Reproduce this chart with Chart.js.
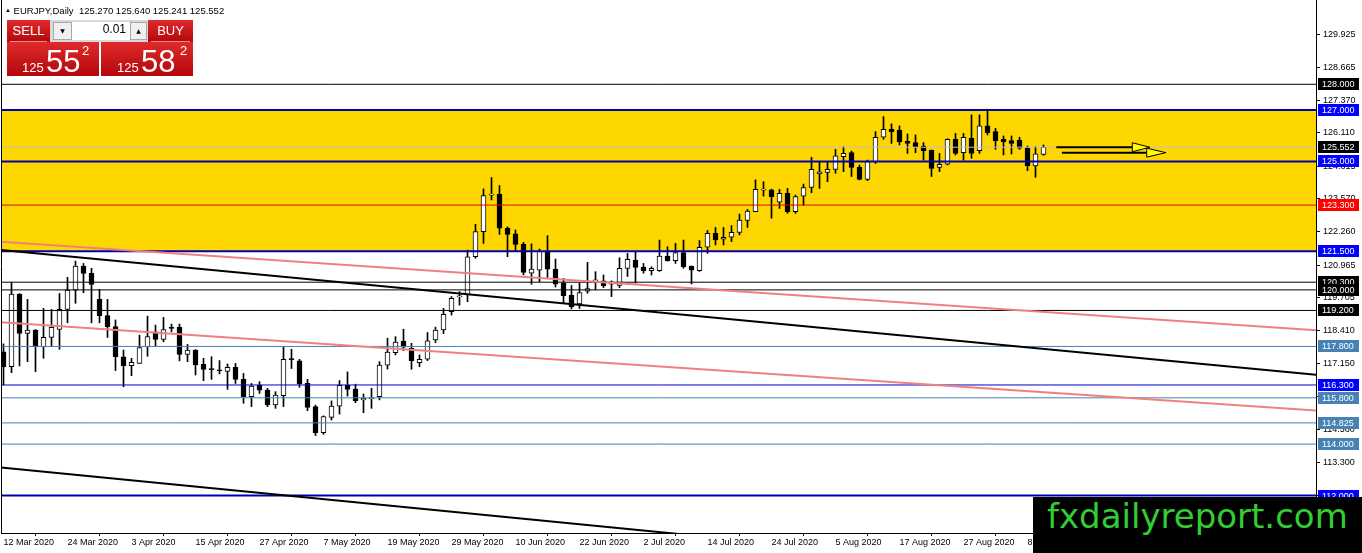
<!DOCTYPE html>
<html>
<head>
<meta charset="utf-8">
<script src="https://cdn.jsdelivr.net/npm/chart.js@4.4.1/dist/chart.umd.min.js"></script>
<style>
html, body { margin: 0; padding: 0; background: #fff; overflow: hidden; }
#wrap { position: relative; width: 1362px; height: 553px; }
#chart { position: absolute; left: 0; top: 0; }
#hdr { position: absolute; left: 5px; top: 5px; font: 9.5px "Liberation Sans", sans-serif; line-height: 10px; color: #000; white-space: pre; }
#hdr .tri { font-size: 6px; vertical-align: 2px; }
.red { position: absolute; background: linear-gradient(#e02a2c, #b3070b); color: #fff; font-family: "Liberation Sans", sans-serif; }
#sell { left: 7px; top: 20px; width: 43px; height: 22px; font-size: 13px; line-height: 22px; text-align: center; }
#buy { left: 148px; top: 20px; width: 45px; height: 22px; font-size: 13px; line-height: 22px; text-align: center; }
#sell:after, #buy:after { content: ""; position: absolute; left: 3px; right: 3px; bottom: 0; height: 1px; background: #f08a8a; }
#spin { position: absolute; left: 50px; top: 20px; width: 98px; height: 22px; background: #d8d8d8; }
#spin div { position: absolute; top: 2px; height: 18px; font-family: "DejaVu Sans", sans-serif; }
#dn { left: 3px; width: 19px; background: #f0f0f0; border: 1px solid #a8a8a8; box-sizing: border-box; font-size: 6px; line-height: 16px; text-align: center; }
#val { left: 22px; width: 58px; background: #fff; font: 12px "Liberation Sans", sans-serif !important; line-height: 18px; text-align: right; padding-right: 4px; box-sizing: border-box; }
#up { left: 80px; width: 17px; background: #f0f0f0; border: 1px solid #a8a8a8; box-sizing: border-box; font-size: 6px; line-height: 16px; text-align: center; }
.big { top: 42px; width: 92px; height: 34px; }
.big span { position: absolute; line-height: 1; }
.big .s { font-size: 13px; top: 19px; }
.big .b { font-size: 31px; top: 4px; }
.big .p { font-size: 13px; top: 2px; }
#mark { position: absolute; left: 1033px; top: 497px; width: 329px; height: 56px; background: #000; color: #33cc33; font: 34px "DejaVu Sans", sans-serif; line-height: 38px; padding-left: 14px; box-sizing: border-box; white-space: nowrap; overflow: hidden; }
</style>
</head>
<body>
<div id="wrap">
  <canvas id="chart" width="1362" height="553"></canvas>
  <div id="hdr"><span class="tri">▲</span> EURJPY,Daily  125.270 125.640 125.241 125.552</div>
  <div id="sell" class="red">SELL</div>
  <div id="spin"><div id="dn">▼</div><div id="val">0.01</div><div id="up">▲</div></div>
  <div id="buy" class="red">BUY</div>
  <div class="red big" style="left:7px"><span class="s" style="left:15px">125</span><span class="b" style="left:39px">55</span><span class="p" style="left:75px">2</span></div>
  <div class="red big" style="left:101px"><span class="s" style="left:16px">125</span><span class="b" style="left:40px">58</span><span class="p" style="left:79px">2</span></div>
  <div id="mark">fxdailyreport.com</div>
</div>
<script>
const dateLabels = ['12 Mar 2020', '24 Mar 2020', '3 Apr 2020', '15 Apr 2020', '27 Apr 2020', '7 May 2020',
    '19 May 2020', '29 May 2020', '10 Jun 2020', '22 Jun 2020', '2 Jul 2020', '14 Jul 2020', '24 Jul 2020',
    '5 Aug 2020', '17 Aug 2020', '27 Aug 2020', '8 Sep 2020'];

const priceTicks = [129.925, 128.665, 127.370, 126.110, 124.815, 123.570, 122.260, 120.965, 119.705,
    118.410, 117.150, 115.860, 114.560, 113.300, 112.005];

const opens = [
    117.59, 117.01, 119.84, 118.31, 118.44, 117.79, 118.15, 118.46, 119.24, 119.99,
    120.93, 120.64, 119.63, 119.00, 118.57, 117.40, 117.05, 117.14, 117.79, 118.37,
    118.07, 118.52, 118.54, 117.49, 117.66, 117.10, 116.92, 116.86, 116.83, 116.99,
    116.52, 115.85, 116.29, 116.10, 115.52, 115.88, 117.31, 117.24, 116.36, 115.46,
    114.44, 115.04, 115.48, 116.29, 116.14, 115.72, 115.77, 115.85, 117.07, 117.56,
    118.01, 117.73, 117.17, 117.30, 118.05, 118.44, 119.15, 119.73, 119.80, 121.29,
    122.27, 123.69, 123.72, 122.40, 122.18, 121.77, 120.65, 120.77, 121.46, 120.81,
    120.26, 119.80, 119.45, 119.95, 120.35, 120.35, 120.22, 120.17, 120.84, 121.16,
    120.89, 120.75, 120.75, 121.32, 121.14, 121.45, 120.93, 120.75, 121.66, 122.20,
    121.97, 122.05, 122.24, 122.70, 123.04, 123.88, 123.89, 123.41, 123.76, 123.04,
    123.65, 123.99, 124.51, 124.57, 124.69, 125.18, 125.34, 124.77, 124.30, 124.99,
    125.94, 126.25, 126.22, 125.79, 125.73, 125.60, 125.44, 124.77, 124.89, 125.86,
    125.34, 125.90, 125.42, 126.38, 126.16, 125.86, 125.81, 125.83, 125.51, 124.82,
    125.27];
const highs = [
    117.90, 120.29, 119.86, 119.63, 118.46, 119.28, 119.24, 119.86, 120.49, 121.12,
    121.03, 120.84, 120.02, 119.63, 118.83, 117.66, 117.34, 118.24, 118.98, 118.63,
    118.93, 118.67, 118.67, 117.88, 117.68, 117.34, 117.40, 117.25, 117.12, 117.14,
    116.75, 116.36, 116.43, 116.17, 116.04, 117.77, 117.69, 117.30, 116.52, 115.52,
    115.10, 115.68, 116.47, 116.81, 116.33, 115.95, 116.17, 117.21, 118.12, 118.18,
    118.47, 117.92, 117.47, 118.34, 118.55, 119.28, 119.74, 119.93, 121.55, 122.55,
    123.93, 124.37, 124.06, 122.45, 122.33, 121.85, 121.79, 121.59, 122.11, 121.20,
    120.45, 120.17, 120.26, 121.07, 120.71, 120.58, 120.35, 121.25, 121.42, 121.46,
    121.03, 120.90, 121.94, 121.68, 121.81, 121.94, 120.93, 121.92, 122.31, 122.43,
    122.43, 122.50, 122.95, 123.13, 124.28, 124.21, 123.92, 123.91, 123.95, 123.69,
    124.12, 125.16, 124.99, 124.99, 125.47, 125.57, 125.40, 124.86, 125.05, 126.16,
    126.74, 126.46, 126.38, 126.07, 126.03, 125.73, 125.44, 125.31, 125.88, 126.09,
    126.09, 126.81, 126.81, 127.03, 126.29, 125.99, 125.99, 125.94, 125.60, 125.57,
    125.64];
const lows = [
    116.30, 116.78, 117.04, 117.21, 116.82, 117.34, 117.79, 117.69, 118.72, 119.48,
    119.89, 118.72, 118.72, 118.15, 116.86, 116.23, 116.66, 117.14, 117.42, 117.83,
    117.98, 118.37, 117.24, 117.21, 116.69, 116.47, 116.52, 116.73, 116.13, 116.36,
    115.59, 115.46, 115.97, 115.46, 115.39, 115.46, 116.94, 116.21, 115.30, 114.33,
    114.38, 114.94, 115.17, 115.87, 115.61, 115.22, 115.39, 115.72, 116.92, 117.47,
    117.64, 116.91, 117.01, 117.25, 117.95, 118.30, 119.02, 119.41, 119.54, 121.23,
    121.81, 123.50, 122.16, 121.29, 121.51, 120.58, 120.22, 120.32, 120.48, 120.11,
    119.48, 119.26, 119.28, 119.87, 120.00, 120.09, 119.74, 120.09, 120.52, 120.26,
    120.65, 120.58, 120.72, 121.12, 121.03, 120.84, 120.23, 120.72, 121.42, 121.75,
    121.75, 121.88, 122.14, 122.43, 123.04, 123.65, 122.79, 123.17, 122.98, 122.98,
    123.30, 123.78, 123.95, 124.21, 124.54, 124.60, 124.41, 124.28, 124.25, 124.92,
    125.86, 125.70, 125.64, 125.31, 125.34, 125.05, 124.41, 124.60, 124.86, 125.25,
    125.05, 125.12, 125.31, 126.03, 125.47, 125.25, 125.29, 125.47, 124.64, 124.38,
    125.24];
const closes = [
    117.01, 119.84, 118.31, 118.44, 117.79, 118.15, 118.54, 119.24, 119.99, 120.93,
    120.64, 120.21, 119.00, 118.57, 117.40, 117.05, 117.18, 117.76, 118.18, 118.07,
    118.46, 118.50, 117.49, 117.66, 117.08, 116.91, 116.90, 116.85, 116.99, 116.52,
    115.85, 116.26, 116.10, 115.52, 115.91, 117.30, 117.29, 116.34, 115.43, 114.44,
    115.07, 115.48, 116.29, 116.13, 115.69, 115.78, 115.80, 117.07, 117.58, 117.97,
    117.77, 117.25, 117.30, 118.02, 118.44, 119.05, 119.67, 119.75, 121.29, 122.27,
    123.67, 123.70, 122.40, 122.16, 121.77, 120.68, 120.81, 121.51, 120.81, 120.22,
    119.78, 119.35, 119.90, 120.05, 120.39, 120.16, 120.24, 120.84, 121.19, 120.87,
    120.74, 120.84, 121.32, 121.14, 121.45, 120.90, 120.77, 121.66, 122.20, 121.94,
    122.05, 122.24, 122.72, 123.07, 123.91, 123.90, 123.63, 123.76, 123.04, 123.63,
    123.98, 124.69, 124.59, 124.69, 125.22, 125.31, 124.77, 124.30, 124.99, 125.94,
    126.25, 126.16, 125.77, 125.70, 125.57, 125.42, 124.73, 124.89, 125.86, 125.31,
    125.94, 125.31, 126.38, 126.12, 125.81, 125.77, 125.70, 125.51, 124.82, 125.29,
    125.55];

const lastPrice = 125.552;
const zoneTop = 127;
const zoneBottom = 121.5;

const levels = [128, 127, 125, 123.3, 121.5, 120.3, 120, 119.2, 117.8, 116.3, 115.8, 114.825, 114, 112];
const levelKinds = ['black', 'blue', 'blue', 'red', 'blue', 'black', 'black', 'black', 'steel', 'navy', 'steel', 'steel', 'steel', 'blue'];

// trend lines: price at the left and right edge of the chart
const xEdges = [-0.3125, 164.0625];
const blackUpper = [121.55, 116.70];
const pinkUpper = [121.87, 118.43];
const pinkLower = [118.74, 115.31];
const blackLower = [113.09, 108.07];

const arrowStart = [131.6, 132.3];
const arrowBase = [141.1, 142.9];
const arrowTip = [143.3, 145.3];
const arrowPrice = [125.55, 125.34];

const kindStyle = {
    black: { line: '#000000', width: 1, box: '#000000' },
    blue: { line: '#0000b0', width: 2, box: '#0000ff' },
    navy: { line: '#0000cd', width: 1, box: '#0000ff' },
    red: { line: '#e00000', width: 1, box: '#ff0000' },
    steel: { line: '#4682b4', width: 1, box: '#4682b4' }
};

function flatLine(v){
    return [{ x: xEdges[0], y: v }, { x: xEdges[1], y: v }];
}

function trend(vals){
    return [{ x: xEdges[0], y: vals[0] }, { x: xEdges[1], y: vals[1] }];
}

function lineSet(data, color, width, order){
    return { type: 'line', data: data, borderColor: color, borderWidth: width, pointRadius: 0, fill: false, order: order };
}

const bars = opens.map((o, i) => i);

const datasets = [
    {
        type: 'line', data: flatLine(zoneTop), borderWidth: 0, pointRadius: 0,
        backgroundColor: '#ffd700', fill: { value: zoneBottom }, order: 20
    },
    {
        type: 'bar', data: bars.map(i => ({ x: i, y: [lows[i], highs[i]] })),
        backgroundColor: '#000000', barThickness: 1, grouped: false, order: 11
    },
    {
        type: 'bar', data: bars.map(i => ({ x: i, y: [opens[i], closes[i]] })),
        backgroundColor: ctx => closes[ctx.dataIndex] >= opens[ctx.dataIndex] ? '#ffffff' : '#000000',
        borderColor: '#000000', borderWidth: 1, borderSkipped: false, minBarLength: 1,
        barThickness: 5, grouped: false, order: 10
    },
    lineSet(flatLine(lastPrice), '#c0c0c0', 1, 5)
];

levels.forEach((v, k) => {
    const st = kindStyle[levelKinds[k]];
    datasets.push(lineSet(flatLine(v), st.line, st.width, 4));
});

datasets.push(lineSet(trend(blackUpper), '#000000', 2, 2));
datasets.push(lineSet(trend(pinkUpper), '#f08080', 2, 2));
datasets.push(lineSet(trend(pinkLower), '#f08080', 2, 2));
datasets.push(lineSet(trend(blackLower), '#000000', 2, 2));

const extras = {
    id: 'extras',
    afterDatasetsDraw(chart){
        const ctx = chart.ctx;
        const xs = chart.scales.x;
        const ys = chart.scales.y;
        const area = chart.chartArea;

        ctx.save();
        ctx.strokeStyle = '#000000';
        ctx.lineWidth = 1;
        ctx.beginPath();
        ctx.moveTo(area.left + 0.5, area.top);
        ctx.lineTo(area.left + 0.5, area.bottom);
        ctx.stroke();

        for (let k = 0; k < arrowStart.length; k++) {
            const y = ys.getPixelForValue(arrowPrice[k]);
            const x0 = xs.getPixelForValue(arrowStart[k]);
            const x1 = xs.getPixelForValue(arrowBase[k]);
            const x2 = xs.getPixelForValue(arrowTip[k]);
            ctx.lineWidth = 2;
            ctx.beginPath();
            ctx.moveTo(x0, y);
            ctx.lineTo(x1, y);
            ctx.stroke();
            ctx.lineWidth = 1;
            ctx.beginPath();
            ctx.moveTo(x1, y - 4.5);
            ctx.lineTo(x2, y);
            ctx.lineTo(x1, y + 4.5);
            ctx.closePath();
            ctx.fillStyle = '#ffff00';
            ctx.fill();
            ctx.stroke();
        }
        ctx.restore();
    },
    afterDraw(chart){
        const ctx = chart.ctx;
        const ys = chart.scales.y;
        const bx = chart.chartArea.right + 2;
        ctx.save();
        ctx.font = '9px "Liberation Sans"';
        ctx.textBaseline = 'middle';
        const box = (v, fill) => {
            const y = Math.round(ys.getPixelForValue(v));
            ctx.fillStyle = fill;
            ctx.fillRect(bx, y - 6, 41, 12);
            ctx.fillStyle = '#ffffff';
            ctx.fillText(v.toFixed(3), bx + 4, y + 0.5);
        };
        levels.forEach((v, k) => box(v, kindStyle[levelKinds[k]].box));
        box(lastPrice, '#000000');
        ctx.restore();
    }
};

function noPad(s){
    s.paddingTop = 0;
    s.paddingBottom = 0;
    s.paddingLeft = 0;
    s.paddingRight = 0;
}

new Chart(document.getElementById('chart'), {
    type: 'bar',
    data: { datasets: datasets },
    plugins: [extras],
    options: {
        responsive: false,
        devicePixelRatio: 1,
        animation: false,
        layout: { padding: { left: 1, top: 0, right: 0, bottom: 0 } },
        plugins: { legend: { display: false }, tooltip: { enabled: false } },
        scales: {
            x: {
                type: 'linear',
                offset: false,
                min: xEdges[0],
                max: xEdges[1],
                afterBuildTicks: s => { s.ticks = dateLabels.map((d, k) => ({ value: k * 8 })); },
                afterFit: s => { s.height = 20; noPad(s); },
                ticks: {
                    autoSkip: false, maxRotation: 0, minRotation: 0, align: 'start', padding: 1,
                    color: '#000000', font: { family: 'Liberation Sans', size: 9 },
                    callback: (v, k) => dateLabels[k]
                },
                grid: { drawOnChartArea: false, tickLength: 3, color: '#000000' },
                border: { color: '#000000' }
            },
            y: {
                position: 'right',
                min: 110.541,
                max: 131.28,
                afterBuildTicks: s => { s.ticks = priceTicks.map(v => ({ value: v })); },
                afterFit: s => { s.width = 46; noPad(s); },
                ticks: {
                    padding: 3, color: '#000000', font: { family: 'Liberation Sans', size: 9 },
                    callback: v => v.toFixed(3)
                },
                grid: { drawOnChartArea: false, tickLength: 4, color: '#000000' },
                border: { color: '#000000' }
            }
        }
    }
});
</script>
</body>
</html>
